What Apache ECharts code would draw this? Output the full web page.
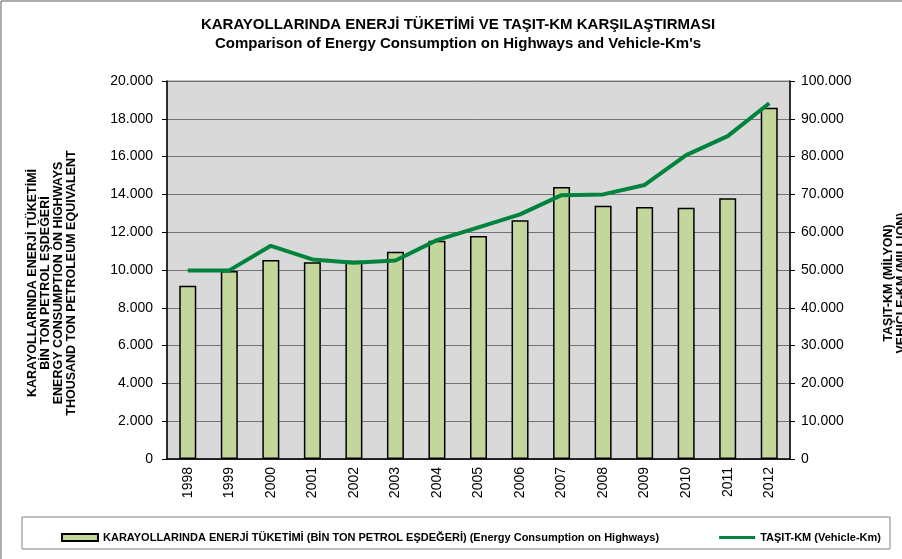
<!DOCTYPE html>
<html>
<head>
<meta charset="utf-8">
<script src="https://cdn.jsdelivr.net/npm/echarts@6/dist/echarts.min.js"></script>
<style>
  html, body { margin: 0; padding: 0; background: #fff; }
  #chart { width: 902px; height: 559px; }
</style>
</head>
<body>
<div id="chart"></div>
<script>
// yıllar
var years = ['1998', '1999', '2000', '2001', '2002', '2003', '2004', '2005',
  '2006', '2007', '2008', '2009', '2010', '2011', '2012'];
// bin ton petrol eşdeğeri
var energy = [9170, 9950, 10530, 10410, 10490, 10970, 11550, 11800,
  12630, 14390, 13400, 13330, 13300, 13790, 18590];
// taşıt-km (milyon)
var vehicleKm = [49900, 49900, 56400, 52800, 51900, 52500, 57900, 61300,
  64700, 69800, 70000, 72500, 80400, 85400, 94100];

var barName = 'KARAYOLLARINDA ENERJİ TÜKETİMİ (BİN TON PETROL EŞDEĞERİ) (Energy Consumption on Highways)';
var lineName = 'TAŞIT-KM (Vehicle-Km)';
var font = 'Liberation Sans, Arial, sans-serif';

function fmt(v) {
  return String(v).replace(/\B(?=(\d{3})+(?!\d))/g, '.');
}

var chart = echarts.init(document.getElementById('chart'));
chart.setOption({
  animation: false,
  textStyle: { fontFamily: font },
  title: {
    text: 'KARAYOLLARINDA ENERJİ TÜKETİMİ VE TAŞIT-KM KARŞILAŞTIRMASI',
    subtext: "Comparison of Energy Consumption on Highways and Vehicle-Km's",
    left: 453,
    textAlign: 'center',
    top: 12,
    itemGap: 4,
    textStyle: { fontFamily: font, fontSize: 15, fontWeight: 'bold', color: '#000' },
    subtextStyle: { fontFamily: font, fontSize: 15, fontWeight: 'bold', color: '#000' }
  },
  grid: {
    left: 167,
    right: 112,
    top: 81,
    bottom: 100,
    show: true,
    backgroundColor: '#d9d9d9',
    borderColor: '#808080',
    borderWidth: 1
  },
  legend: {
    left: 56,
    top: 527,
    itemWidth: 36,
    itemHeight: 7,
    itemGap: 60,
    textStyle: { fontFamily: font, fontSize: 11, fontWeight: 'bold', color: '#000' },
    data: [
      { name: barName, icon: 'rect' },
      { name: lineName, icon: 'path://M0,0H36V3H0Z' }
    ]
  },
  graphic: [
    {
      type: 'rect',
      shape: { x: 1, y: 1, width: 1000, height: 1000 },
      style: { fill: 'none', stroke: '#595959', lineWidth: 1 },
      silent: true
    },
    {
      type: 'rect',
      shape: { x: 22, y: 517, width: 868, height: 32 },
      style: { fill: 'none', stroke: '#808080', lineWidth: 1 },
      silent: true
    },
    {
      type: 'text',
      x: 52,
      y: 283,
      rotation: Math.PI / 2,
      style: {
        text: 'KARAYOLLARINDA ENERJİ TÜKETİMİ\nBİN TON PETROL EŞDEĞERİ\nENERGY CONSUMPTION ON HIGHWAYS\nTHOUSAND TON PETROLEUM EQUIVALENT',
        font: 'bold 12.5px ' + font,
        lineHeight: 12.7,
        align: 'center',
        verticalAlign: 'middle',
        fill: '#000'
      }
    },
    {
      type: 'text',
      x: 895,
      y: 283,
      rotation: Math.PI / 2,
      style: {
        text: 'TAŞIT-KM (MİLYON)\nVEHICLE-KM (MILLION)',
        font: 'bold 12.5px ' + font,
        lineHeight: 13,
        align: 'center',
        verticalAlign: 'middle',
        fill: '#000'
      }
    }
  ],
  xAxis: {
    type: 'category',
    data: years,
    axisLine: { lineStyle: { color: '#000', width: 1.5 } },
    axisTick: { length: 5, lineStyle: { color: '#000' } },
    axisLabel: {
      rotate: 90,
      margin: 8,
      fontFamily: font,
      fontSize: 14,
      color: '#000'
    }
  },
  yAxis: [
    {
      type: 'value',
      min: 0,
      max: 20000,
      interval: 2000,
      axisLine: { show: true, lineStyle: { color: '#000', width: 1.5 } },
      axisTick: { show: true, length: 5, lineStyle: { color: '#000' } },
      axisLabel: {
        margin: 14,
        fontFamily: font,
        fontSize: 14,
        color: '#000',
        formatter: fmt
      },
      splitLine: { lineStyle: { color: '#737373', width: 1 } }
    },
    {
      type: 'value',
      min: 0,
      max: 100000,
      interval: 10000,
      axisLine: { show: true, lineStyle: { color: '#000', width: 1.5 } },
      axisTick: { show: true, length: 5, lineStyle: { color: '#000' } },
      axisLabel: {
        margin: 11,
        fontFamily: font,
        fontSize: 14,
        color: '#000',
        formatter: fmt
      },
      splitLine: { show: false }
    }
  ],
  series: [
    {
      name: barName,
      type: 'bar',
      data: energy,
      barWidth: 17,
      itemStyle: { color: '#c3d69b', borderColor: '#000', borderWidth: 1.5 }
    },
    {
      name: lineName,
      type: 'line',
      yAxisIndex: 1,
      data: vehicleKm,
      symbol: 'none',
      lineStyle: { color: '#00843d', width: 4 },
      itemStyle: { color: '#00843d' }
    }
  ]
});
</script>
</body>
</html>
